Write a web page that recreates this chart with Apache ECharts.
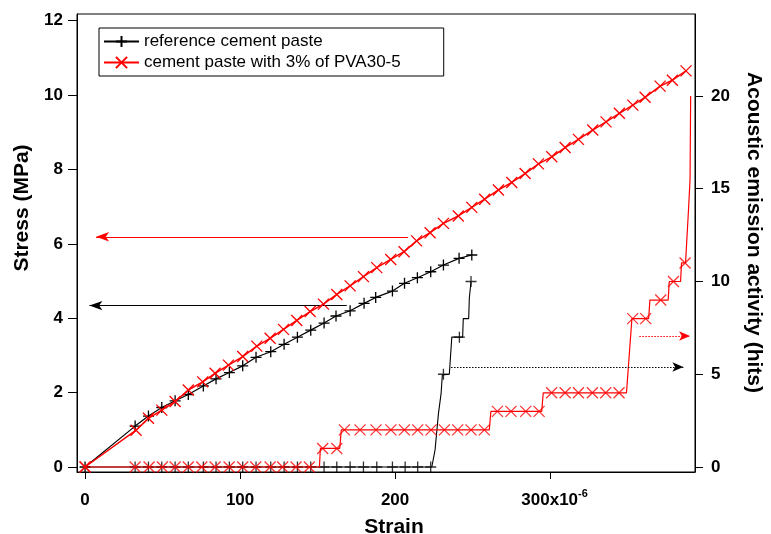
<!DOCTYPE html>
<html>
<head>
<meta charset="utf-8">
<script src="https://cdn.jsdelivr.net/npm/echarts@6/dist/echarts.min.js"></script>
<style>
  html, body { margin: 0; padding: 0; background: #fff; }
  #chart { width: 771px; height: 534px; }
</style>
</head>
<body>
<div id="chart"></div>
<script>
// axis ticks
const strainTicks = [0, 100, 200, 300]
const stressTicks = [0, 2, 4, 6, 8, 10, 12]
const hitsTicks = [0, 5, 10, 15, 20]

// stress vs strain (x10^-6), MPa
const refStress = [
  [0, 0], [32.3, 1.10], [40.9, 1.37], [49.5, 1.60], [58.1, 1.78], [66.6, 1.95], [76.3, 2.18],
  [84.5, 2.37], [93.1, 2.54], [101.7, 2.72], [110.3, 2.95], [119.8, 3.10], [128.4, 3.30],
  [137, 3.49], [145.6, 3.68], [154.2, 3.87], [161.9, 4.06], [171, 4.20], [180, 4.40],
  [187.5, 4.56], [198.3, 4.73], [206.1, 4.94], [214.4, 5.09], [223, 5.25], [231.2, 5.43],
  [241.3, 5.61], [249.5, 5.70]
]
const pvaStress = [
  [0, 0], [32.9, 0.99], [40.9, 1.31], [49.5, 1.53], [58.1, 1.76], [66.6, 2.07], [75.9, 2.29],
  [83.9, 2.52], [92.5, 2.74], [101.7, 2.97], [110.8, 3.25], [119.4, 3.46], [128, 3.70],
  [136.6, 3.94], [145.2, 4.18], [153.8, 4.38], [162.4, 4.64], [171, 4.87], [179.6, 5.12],
  [188.2, 5.36], [197.2, 5.58], [205.8, 5.79], [213.9, 6.08], [222.6, 6.30], [231.2, 6.55],
  [240.8, 6.75], [249.5, 6.98], [257.8, 7.20], [266.7, 7.45], [275.3, 7.65], [283.9, 7.89],
  [292.5, 8.15], [301.1, 8.34], [309.7, 8.59], [318.3, 8.81], [327.5, 9.06], [336.1, 9.28],
  [344.7, 9.51], [353.4, 9.73], [361.3, 9.94], [371, 10.24], [378.9, 10.40], [387.7, 10.65]
]

// acoustic emission (hits)
const refHitsPath = [
  [0, 0], [223.7, 0], [225.8, 0.92], [228, 2.89], [229.7, 3.97], [230.5, 4.96], [235, 5],
  [236.6, 7], [243.6, 7], [244, 8], [247.5, 8], [247.9, 9.1], [249, 10]
]
const refHitsMarks = [
  [32.3, 0], [40.9, 0], [49.5, 0], [58.1, 0], [66.6, 0], [76.3, 0], [84.5, 0], [93.1, 0],
  [101.7, 0], [110.3, 0], [119.8, 0], [128.4, 0], [137, 0], [145.6, 0], [154.2, 0],
  [162.4, 0], [171, 0], [179.6, 0], [188.2, 0], [198.3, 0], [206.5, 0], [214.6, 0], [223, 0],
  [231.2, 5], [241.5, 7], [249, 10]
]
const pvaHitsPath = [
  [0, 0], [151.2, 0], [151.8, 1], [164.3, 1], [165.3, 2], [260.8, 2], [261.8, 3], [294.6, 3],
  [295.6, 4], [349.3, 4], [352.8, 8], [363.6, 8], [364.4, 9], [376.2, 9], [376.9, 10],
  [384.2, 10], [384.8, 11], [387.4, 11], [389.4, 14], [390.3, 15.5], [390.7, 20]
]
const pvaHitsMarks = [
  [0, 0], [32.3, 0], [41.3, 0], [49.9, 0], [58.1, 0], [66.6, 0], [75.3, 0], [83.9, 0], [92.9, 0],
  [101.7, 0], [110.1, 0], [119.4, 0], [127.5, 0], [136.1, 0], [144.7, 0], [153.3, 1], [162.4, 1],
  [167.3, 2], [177.4, 2], [187.7, 2], [197.3, 2], [206, 2], [214.6, 2], [223.2, 2], [231.8, 2],
  [240.4, 2], [249, 2], [257.6, 2], [266, 3], [274.8, 3], [284.3, 3], [292.9, 3], [301, 4],
  [309.7, 4], [318.3, 4], [327.3, 4], [335.9, 4], [344.5, 4], [353.3, 8], [361.7, 8],
  [371.4, 9], [379.6, 10], [387.1, 11]
]

// arrows pointing to the axis each curve belongs to
const refStressArrow = [[168.8, 4.34], [2.8, 4.34]]
const pvaStressArrow = [[208.4, 6.19], [7.1, 6.19]]
const refHitsArrow = [[236.1, 5.39], [386, 5.39]]
const pvaHitsArrow = [[357.6, 7.06], [390.3, 7.06]]

const FONT = 'Liberation Sans, Arial, Helvetica, sans-serif'
const PLUS = 'path://M5,0L5,10M0,5L10,5'
const CROSS = 'path://M0,0L10,10M0,10L10,0'

const arrowLine = (pts, color, dotted) => ({
  silent: true,
  animation: false,
  symbol: ['none', 'arrow'],
  symbolSize: dotted ? [7, 11] : [7, 13],
  label: { show: false },
  emphasis: { disabled: true },
  lineStyle: { color: color, width: dotted ? 1.1 : 1.2, type: dotted ? [1.5, 1.5] : 'solid' },
  data: [[{ coord: pts[0] }, { coord: pts[1] }]]
})

const chart = echarts.init(document.getElementById('chart'))

chart.setOption({
  animation: false,
  backgroundColor: '#fff',
  textStyle: { fontFamily: FONT },
  grid: {
    left: 77, right: 76, top: 14, bottom: 62,
    containLabel: false,
    outerBoundsMode: 'none',
    show: true, borderColor: '#000', borderWidth: 1
  },
  legend: {
    data: ['reference cement paste', 'cement paste with 3% of PVA30-5'],
    orient: 'vertical',
    left: 99, top: 28,
    padding: [5, 43, 5, 4],
    itemGap: 4,
    itemWidth: 35,
    itemHeight: 14,
    borderColor: '#000',
    borderWidth: 1,
    textStyle: { fontSize: 17, color: '#000', fontFamily: FONT }
  },
  xAxis: {
    type: 'value',
    min: -5.2, max: 393.5,
    name: 'Strain',
    nameLocation: 'middle',
    nameGap: 42,
    nameTextStyle: { fontSize: 21, fontWeight: 'bold', color: '#000', padding: [0, 0, 0, 16] },
    axisLine: { onZero: false, lineStyle: { color: '#000', width: 1 } },
    axisTick: { customValues: strainTicks, length: 7, inside: false, lineStyle: { color: '#000' } },
    axisLabel: {
      customValues: strainTicks,
      margin: 16,
      lineHeight: 24,
      fontSize: 17, fontWeight: 'bold', color: '#000',
      formatter: v => v === 300 ? '{m|300x10}{s|-6}' : String(v),
      rich: {
        m: { fontSize: 17, fontWeight: 'bold', color: '#000', lineHeight: 24, padding: [0, 0, 0, 9] },
        s: { fontSize: 11, fontWeight: 'bold', color: '#000', lineHeight: 11, verticalAlign: 'top' }
      }
    },
    splitLine: { show: false }
  },
  yAxis: [
    {
      type: 'value',
      min: -0.134, max: 12.18,
      name: 'Stress (MPa)',
      nameLocation: 'middle',
      nameGap: 44,
      nameTextStyle: { fontSize: 21, fontWeight: 'bold', color: '#000', padding: [0, 0, 0, 70] },
      axisLine: { show: true, onZero: false, lineStyle: { color: '#000' } },
      axisTick: { show: true, customValues: stressTicks, length: 9, lineStyle: { color: '#000' } },
      axisLabel: { customValues: stressTicks, margin: 14, fontSize: 17, fontWeight: 'bold', color: '#000' },
      splitLine: { show: false }
    },
    {
      type: 'value',
      position: 'right',
      min: -0.27, max: 24.42,
      name: 'Acoustic emission activity (hits)',
      nameLocation: 'middle',
      nameRotate: -90,
      nameGap: 48,
      nameTextStyle: { fontSize: 21, fontWeight: 'bold', color: '#000', padding: [0, 21, 0, 0] },
      axisLine: { show: true, onZero: false, lineStyle: { color: '#000' } },
      axisTick: { show: true, customValues: hitsTicks, length: 8, lineStyle: { color: '#000' } },
      axisLabel: { customValues: hitsTicks, margin: 16, fontSize: 17, fontWeight: 'bold', color: '#000' },
      splitLine: { show: false }
    }
  ],
  series: [
    {
      name: 'ref hits',
      type: 'line',
      yAxisIndex: 1,
      data: refHitsPath,
      symbol: 'none',
      lineStyle: { color: '#000', width: 1.1 },
      markLine: arrowLine(refHitsArrow, '#000', true),
      z: 2
    },
    {
      name: 'ref hits marks',
      type: 'scatter',
      yAxisIndex: 1,
      data: refHitsMarks,
      symbol: PLUS,
      symbolSize: 11,
      itemStyle: { color: '#000', borderColor: '#000', borderWidth: 1.3 },
      z: 2
    },
    {
      name: 'reference cement paste',
      type: 'line',
      yAxisIndex: 0,
      data: refStress,
      symbol: PLUS,
      symbolSize: 11,
      showAllSymbol: true,
      lineStyle: { color: '#000', width: 1.2 },
      itemStyle: { color: '#000', borderColor: '#000', borderWidth: 1.3 },
      markLine: arrowLine(refStressArrow, '#000', false),
      z: 3
    },
    {
      name: 'pva hits',
      type: 'line',
      yAxisIndex: 1,
      data: pvaHitsPath,
      symbol: 'none',
      lineStyle: { color: '#ff0000', width: 1.2 },
      markLine: arrowLine(pvaHitsArrow, '#ff0000', true),
      z: 4
    },
    {
      name: 'pva hits marks',
      type: 'scatter',
      yAxisIndex: 1,
      data: pvaHitsMarks,
      symbol: CROSS,
      symbolSize: 11,
      itemStyle: { color: '#ff0000', borderColor: '#ff0000', borderWidth: 1.3 },
      z: 4
    },
    {
      name: 'cement paste with 3% of PVA30-5',
      type: 'line',
      yAxisIndex: 0,
      data: pvaStress,
      symbol: CROSS,
      symbolSize: 11,
      showAllSymbol: true,
      lineStyle: { color: '#ff0000', width: 1.5 },
      itemStyle: { color: '#ff0000', borderColor: '#ff0000', borderWidth: 1.3 },
      markLine: arrowLine(pvaStressArrow, '#ff0000', false),
      z: 5
    }
  ]
})
</script>
</body>
</html>
